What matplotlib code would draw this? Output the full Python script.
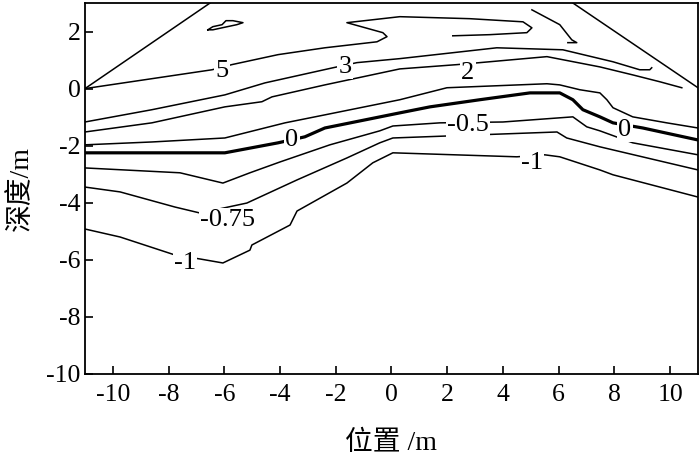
import matplotlib
matplotlib.use("Agg")
import matplotlib.pyplot as plt

plt.rcParams["font.family"] = ["Liberation Serif", "Noto Sans CJK SC"]
plt.rcParams["axes.unicode_minus"] = False

# contour traces: position (m) / depth (m)
edge_left_x = [-11.0, -6.51]
edge_left_y = [0.0, 3.0]
edge_right_x = [6.51, 11.0]
edge_right_y = [3.0, 0.03]

c5_x = [-11.0, -6.44, -5.73, -4.07, -2.39, -0.52, -0.16, -0.31, -1.60, 0.30, 2.81, 4.72, 5.04, 4.86, 3.53, 2.20]
c5_y = [0.0, 0.66, 0.84, 1.19, 1.43, 1.64, 1.82, 1.96, 2.31, 2.52, 2.45, 2.34, 2.13, 1.96, 1.89, 1.85]

island_x = [-6.59, -6.41, -6.08, -5.94, -5.69, -5.33, -5.55, -6.08, -6.41, -6.59]
island_y = [2.06, 2.17, 2.24, 2.38, 2.38, 2.31, 2.24, 2.13, 2.06, 2.06]

hook_x = [5.04, 6.04, 6.47, 6.65, 6.33]
hook_y = [2.76, 2.24, 1.71, 1.61, 1.61]

c3_x = [-11.0, -8.60, -5.98, -4.54, -2.10, -1.24, 0.30, 3.78, 6.15, 7.95, 8.91, 9.27, 9.34]
c3_y = [-1.17, -0.74, -0.22, 0.20, 0.73, 0.91, 1.05, 1.43, 1.36, 0.94, 0.66, 0.66, 0.73]

c2_x = [-11.0, -8.60, -5.98, -4.65, -4.29, -2.39, 0.30, 2.35, 3.17, 5.58, 7.48, 8.66, 9.63, 10.42]
c2_y = [-1.52, -1.20, -0.64, -0.46, -0.29, 0.13, 0.69, 0.84, 0.91, 1.12, 0.76, 0.48, 0.24, 0.03]

c1_x = [-11.0, -8.60, -5.98, -3.82, -2.39, 0.30, 1.99, 5.58, 6.04, 6.76, 7.48, 7.73, 7.95, 8.66, 9.88, 11.0]
c1_y = [-1.97, -1.87, -1.73, -1.20, -0.92, -0.39, 0.03, 0.17, 0.13, -0.04, -0.15, -0.39, -0.67, -0.99, -1.20, -1.38]

c0_x = [-11.0, -5.98, -4.07, -3.11, -2.39, 0.30, 1.38, 3.17, 4.97, 6.04, 6.51, 6.87, 7.48, 7.95, 9.02, 11.0]
c0_y = [-2.25, -2.25, -1.90, -1.69, -1.38, -0.85, -0.64, -0.39, -0.15, -0.15, -0.39, -0.74, -0.99, -1.20, -1.38, -1.80]

cm05_x = [-11.0, -7.59, -6.05, -5.08, -4.00, -2.21, -0.42, 0.05, 1.74, 4.00, 6.51, 7.01, 7.48, 8.66, 11.0]
cm05_y = [-2.78, -2.95, -3.31, -2.95, -2.57, -1.97, -1.48, -1.31, -1.20, -1.17, -0.99, -1.34, -1.48, -1.90, -2.32]

cm075_x = [-11.0, -9.74, -7.77, -6.87, -5.19, -3.39, -1.60, -0.42, 0.05, 5.94, 6.29, 7.48, 11.0]
cm075_y = [-3.45, -3.62, -4.15, -4.36, -4.01, -3.20, -2.43, -1.90, -1.73, -1.52, -1.73, -2.04, -2.85]

cm1_x = [-11.0, -9.74, -7.77, -6.87, -6.05, -5.08, -5.01, -3.64, -3.39, -1.60, -0.67, 0.05, 4.50, 5.50, 6.04, 7.48, 7.95, 11.0]
cm1_y = [-4.92, -5.20, -5.83, -5.97, -6.11, -5.66, -5.48, -4.78, -4.29, -3.31, -2.60, -2.25, -2.39, -2.32, -2.39, -2.85, -3.02, -3.80]

label_text = ["5", "3", "2", "0", "0", "-0.5", "-0.75", "-1", "-1"]
label_x = [-6.08, -1.67, 2.74, -3.57, 8.38, 2.74, -5.87, -7.41, 5.04]
label_y = [0.60, 0.76, 0.55, -1.80, -1.45, -1.27, -4.60, -6.11, -2.60]

thin_lines = [
    (edge_left_x, edge_left_y), (edge_right_x, edge_right_y),
    (c5_x, c5_y), (island_x, island_y), (hook_x, hook_y),
    (c3_x, c3_y), (c2_x, c2_y), (c1_x, c1_y),
    (cm05_x, cm05_y), (cm075_x, cm075_y), (cm1_x, cm1_y),
]

fig = plt.figure(figsize=(7, 4.59), dpi=100)
ax = fig.add_axes([0.1214, 0.1852, 0.8757, 0.8083])

for xs, ys in thin_lines:
    ax.plot(xs, ys, color="black", lw=1.1, solid_joinstyle="round")
ax.plot(c0_x, c0_y, color="black", lw=2.3, solid_joinstyle="round")

for t, x, y in zip(label_text, label_x, label_y):
    ax.text(x, y, t, ha="center", va="center", fontsize=19, zorder=5,
            bbox=dict(facecolor="white", edgecolor="none", pad=1.0))

ax.set_xlim(-11, 11)
ax.set_ylim(-10, 3)
ax.set_xticks(range(-10, 11, 2))
ax.set_yticks(range(-10, 3, 2))
ax.tick_params(direction="in", length=6, width=1.2, labelsize=18.5, top=False, right=False)
ax.tick_params(axis="x", pad=7)
ax.tick_params(axis="y", pad=3)
for sp in ax.spines.values():
    sp.set_linewidth(1.3)

ax.set_xlabel("位置 /m", fontsize=20, labelpad=18)
ax.set_ylabel("深度/m", fontsize=20, labelpad=9)

fig.savefig("out.png", dpi=100)
